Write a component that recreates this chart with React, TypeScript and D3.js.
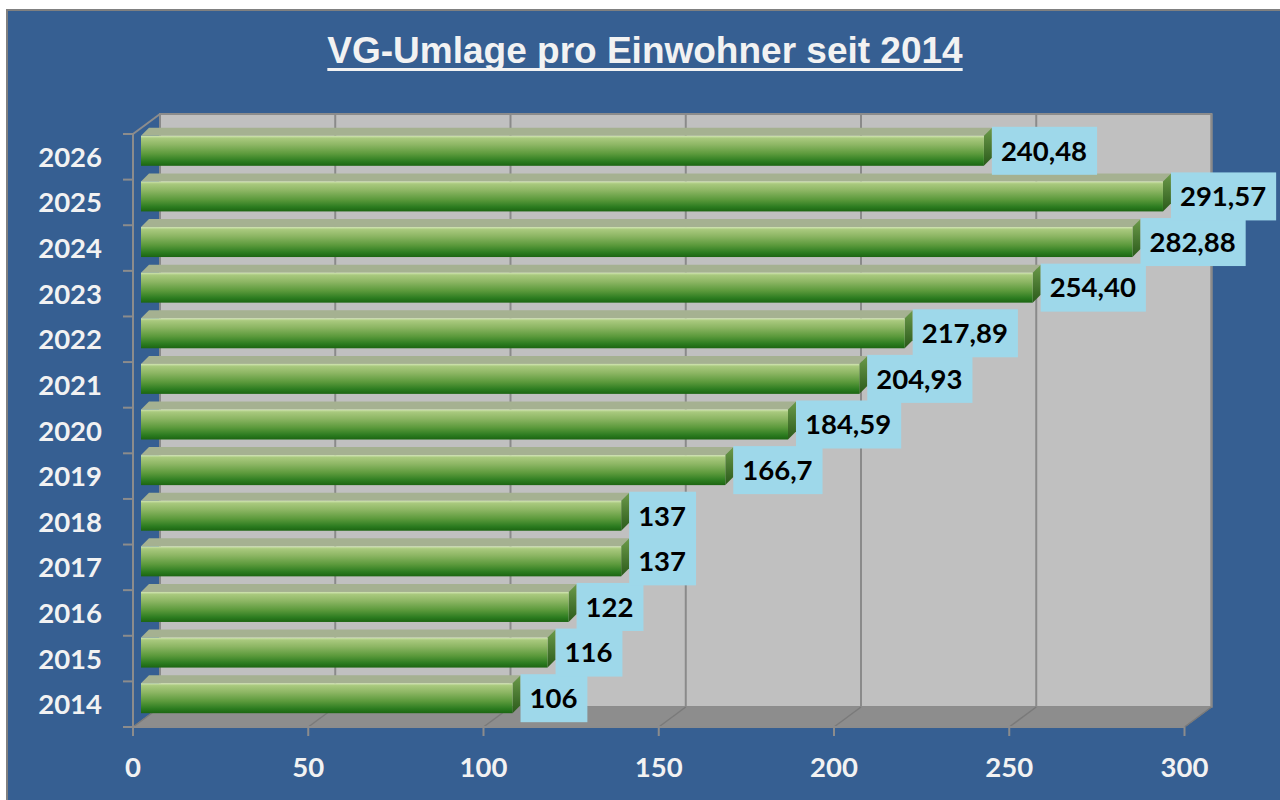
import React from "react";
import * as d3 from "d3";

const years = ["2014", "2015", "2016", "2017", "2018", "2019", "2020", "2021", "2022", "2023", "2024", "2025", "2026"];
const values = [106, 116, 122, 137, 137, 166.7, 184.59, 204.93, 217.89, 254.4, 282.88, 291.57, 240.48];
const valueLabels = ["106", "116", "122", "137", "137", "166,7", "184,59", "204,93", "217,89", "254,40", "282,88", "291,57", "240,48"];
const xTicks = [0, 50, 100, 150, 200, 250, 300];
const title = "VG-Umlage pro Einwohner seit 2014";

const W = 1280;
const H = 800;
const FONT = "Lato, 'Open Sans', sans-serif";
const LABEL_SIZE = 27.5;
const TITLE_FONT = "'Liberation Sans', Arial, sans-serif";
const TITLE_SIZE = 37;

// 3D geometry
const DX = 27; // depth offset of back wall
const DY = -20;
const BAR_OX = 8; // bar front face offset from front plane
const BAR_OY = -6;
const BAR_DX = 8; // bar depth
const BAR_DY = -8;
const BAR_H = 30;

let ctx: CanvasRenderingContext2D | null = null;
function measure(text: string, font: string): number {
  if (!ctx) {
    const c = document.createElement("canvas");
    ctx = c.getContext("2d");
  }
  if (!ctx) return text.length * 15;
  ctx.font = font;
  return ctx.measureText(text).width;
}

export default function App() {
  const x = d3.scaleLinear().domain([0, 300]).range([133, 1184.5]);
  const y = d3.scaleBand<string>().domain([...years].reverse()).range([134, 727]).paddingInner(0).paddingOuter(0);
  const [x0, x1] = x.range();
  const [yTop, yBot] = y.range();

  const titleW = measure(title, `bold ${TITLE_SIZE}px 'Liberation Sans'`);
  const boundaries = d3.range(years.length + 1).map((i) => yTop + i * y.bandwidth());

  return (
    <svg width={W} height={H} style={{ position: "absolute", left: 0, top: 0 }}>
      <defs>
        <linearGradient id="barFront" x1="0" y1="0" x2="0" y2="1">
          <stop offset="0" stopColor="#d3e6b4" />
          <stop offset="0.08" stopColor="#a9c97e" />
          <stop offset="0.3" stopColor="#8db664" />
          <stop offset="0.6" stopColor="#5c9a3c" />
          <stop offset="0.85" stopColor="#2c7c20" />
          <stop offset="1" stopColor="#1c6512" />
        </linearGradient>
        <linearGradient id="barSide" x1="0" y1="0" x2="0" y2="1">
          <stop offset="0" stopColor="#6c9a4a" />
          <stop offset="1" stopColor="#2a5a1a" />
        </linearGradient>
      </defs>
      <rect x={0} y={0} width={W} height={H} fill="#ffffff" />
      <rect x={7} y={10} width={W + 10} height={H + 10} fill="#365f92" stroke="#808080" strokeWidth={2} />

      {/* Title */}
      <text x={645} y={63} textAnchor="middle" fill="#f2f2f2" fontFamily={TITLE_FONT} fontWeight="bold" fontSize={TITLE_SIZE}>
        {title}
      </text>
      <rect x={645 - titleW / 2} y={68} width={titleW} height={3} fill="#f2f2f2" />

      {/* Back wall */}
      <rect x={x0 + DX} y={yTop + DY} width={x1 - x0} height={yBot - yTop} fill="#c0c0c0" stroke="#8c8c8c" strokeWidth={2} />
      {xTicks.map((t) => (
        <line key={"g" + t} x1={x(t) + DX} x2={x(t) + DX} y1={yTop + DY} y2={yBot + DY} stroke="#8a8a8a" strokeWidth={2} />
      ))}

      {/* Floor */}
      <polygon
        points={`${x0},${yBot} ${x1},${yBot} ${x1 + DX},${yBot + DY} ${x0 + DX},${yBot + DY}`}
        fill="#8d8d8d"
        stroke="#8d8d8d"
        strokeWidth={1}
      />
      {xTicks.map((t) => (
        <line key={"f" + t} x1={x(t)} y1={yBot} x2={x(t) + DX} y2={yBot + DY} stroke="#7a7a7a" strokeWidth={1.5} />
      ))}

      {/* Axes */}
      <line x1={x0} y1={yTop} x2={x0} y2={yBot} stroke="#8c8c8c" strokeWidth={2} />
      <line x1={x0} y1={yTop} x2={x0 + DX} y2={yTop + DY} stroke="#8c8c8c" strokeWidth={2} />
      {boundaries.map((b, i) => (
        <line key={"yt" + i} x1={x0 - 10} x2={x0} y1={b} y2={b} stroke="#8c8c8c" strokeWidth={2} />
      ))}
      <line x1={x0} y1={yBot} x2={x1} y2={yBot} stroke="#8c8c8c" strokeWidth={2} />
      {xTicks.map((t) => (
        <line key={"xt" + t} x1={x(t)} x2={x(t)} y1={yBot} y2={yBot + 9} stroke="#8c8c8c" strokeWidth={2} />
      ))}

      {/* Bars */}
      {years.map((yr, i) => {
        const cy = (y(yr) as number) + y.bandwidth() / 2 + BAR_OY;
        const top = cy - BAR_H / 2;
        const bx0 = x(0) + BAR_OX;
        const bx1 = x(values[i]) + BAR_OX;
        return (
          <g key={"b" + yr}>
            <polygon
              points={`${bx0},${top} ${bx1},${top} ${bx1 + BAR_DX},${top + BAR_DY} ${bx0 + BAR_DX},${top + BAR_DY}`}
              fill="#a5b191"
            />
            <polygon
              points={`${bx1},${top} ${bx1 + BAR_DX},${top + BAR_DY} ${bx1 + BAR_DX},${top + BAR_DY + BAR_H} ${bx1},${top + BAR_H}`}
              fill="url(#barSide)"
            />
            <rect x={bx0} y={top} width={bx1 - bx0} height={BAR_H} fill="url(#barFront)" />
          </g>
        );
      })}

      {/* Value labels */}
      {years.map((yr, i) => {
        const cy = (y(yr) as number) + y.bandwidth() / 2 + BAR_OY;
        const bx = x(values[i]) + BAR_OX + BAR_DX;
        const tw = measure(valueLabels[i], `bold ${LABEL_SIZE}px Lato`);
        return (
          <g key={"l" + yr}>
            <rect x={bx} y={cy - 24} width={tw + 19} height={48} fill="#9ed8ea" />
            <text x={bx + 9} y={cy + 9.8} fill="#000" fontFamily={FONT} fontWeight="bold" fontSize={LABEL_SIZE}>
              {valueLabels[i]}
            </text>
          </g>
        );
      })}

      {/* Y labels */}
      {years.map((yr) => (
        <text
          key={"yl" + yr}
          x={102}
          y={(y(yr) as number) + y.bandwidth() / 2 + 10}
          textAnchor="end"
          fill="#f2f2f2"
          fontFamily={FONT}
          fontWeight="bold"
          fontSize={LABEL_SIZE}
        >
          {yr}
        </text>
      ))}

      {/* X labels */}
      {xTicks.map((t) => (
        <text key={"xl" + t} x={x(t)} y={777} textAnchor="middle" fill="#f2f2f2" fontFamily={FONT} fontWeight="bold" fontSize={LABEL_SIZE}>
          {t}
        </text>
      ))}
    </svg>
  );
}
